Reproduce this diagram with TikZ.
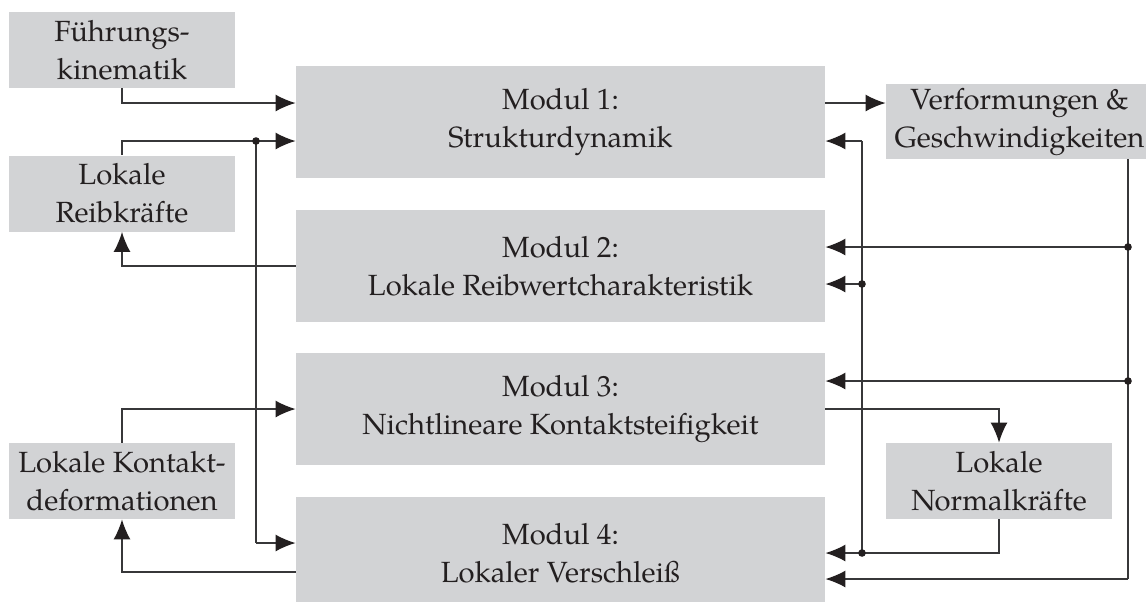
\documentclass[tikz,border=0pt]{standalone}
\usepackage{fontspec}
\setmainfont{TeX Gyre Pagella}
\usetikzlibrary{arrows.meta}
\definecolor{boxgray}{RGB}{210,211,213}
\definecolor{txt}{RGB}{35,31,32}
\definecolor{wire}{RGB}{55,55,57}
\tikzset{
  box/.style={fill=boxgray, draw=none, inner sep=0pt, align=center, text=txt,
    font=\fontsize{14.6pt}{19pt}\selectfont},
  smallbox/.style={box, minimum width=113pt, minimum height=38pt},
  modbox/.style={box, minimum width=264.5pt, minimum height=56pt},
  wireline/.style={draw=wire, line width=0.7pt},
  arr/.style={wireline, -{Latex[length=10pt,width=8.5pt,color=txt]}},
  junction/.style={circle, fill=txt, inner sep=0pt, minimum size=3.8pt}
}
\begin{document}
\begin{tikzpicture}[x=0.5pt,y=-0.5pt]
\useasboundingbox (0,0) rectangle (1146,601);
\clip (0,0) rectangle (1146,601);
% boxes
\node[smallbox] (fk) at (122,50) {Führungs-\\kinematik};
\node[smallbox] (rk) at (122,193.5) {Lokale\\Reibkräfte};
\node[smallbox] (kd) at (122,481) {Lokale Kontakt-\\deformationen};
\node[box, minimum width=133.5pt, minimum height=37.5pt] (vg) at (1019.5,121.5) {Verformungen \&\\Geschwindigkeiten};
\node[smallbox] (nk) at (999,481) {Lokale\\Normalkräfte};
\node[modbox] (m1) at (560.5,122) {Modul 1:\\Strukturdynamik};
\node[modbox] (m2) at (560.5,266) {Modul 2:\\Lokale Reibwertcharakteristik};
\node[modbox] (m3) at (560.5,409) {Modul 3:\\Nichtlineare Kontaktsteifigkeit};
\node[modbox] (m4) at (560.5,553) {Modul 4:\\Lokaler Verschleiß};
% helper coordinates
\coordinate (y103) at (0,103);
\coordinate (j1) at (256,141);
\coordinate (j1b) at (256,543);
\coordinate (y572) at (0,572);
\coordinate (jv) at (1128,159);
\coordinate (jv2) at (1128,247);
\coordinate (jv3) at (1128,381);
\coordinate (jv4) at (1128,579);
\coordinate (jn) at (862,553);
\coordinate (jn2) at (862,284);
\coordinate (jn1) at (862,141);
% left side
\draw[arr] (fk.south) |- (m1.west |- y103);
\draw[wireline] (rk.north) |- (j1);
\draw[arr] (j1) -- (m1.west |- j1);
\draw[wireline] (j1) -- (j1b);
\draw[arr] (j1b) -- (m4.west |- j1b);
\draw[arr] (m2.west) -| (rk.south);
\draw[arr] (kd.north) |- (m3.west);
\draw[arr] (m4.west |- y572) -| (kd.south);
% right side
\draw[arr] (m1.east |- y103) -- (vg.west |- y103);
\draw[wireline] (vg.south -| jv) -- (jv4);
\draw[arr] (jv4) -- (m4.east |- jv4);
\draw[arr] (jv2) -- (m2.east |- jv2);
\draw[arr] (jv3) -- (m3.east |- jv3);
\draw[wireline] (nk.south) |- (jn);
\draw[arr] (jn) -- (m4.east |- jn);
\draw[wireline] (jn) -- (jn1);
\draw[arr] (jn1) -- (m1.east |- jn1);
\draw[arr] (jn2) -- (m2.east |- jn2);
\draw[arr] (m3.east) -| (nk.north);
% junction dots
\node[junction] (d1) at (j1) {};
\node[junction] (d2) at (jv2) {};
\node[junction] (d3) at (jv3) {};
\node[junction] (d4) at (jn) {};
\node[junction] (d5) at (jn2) {};
\end{tikzpicture}
\end{document}
